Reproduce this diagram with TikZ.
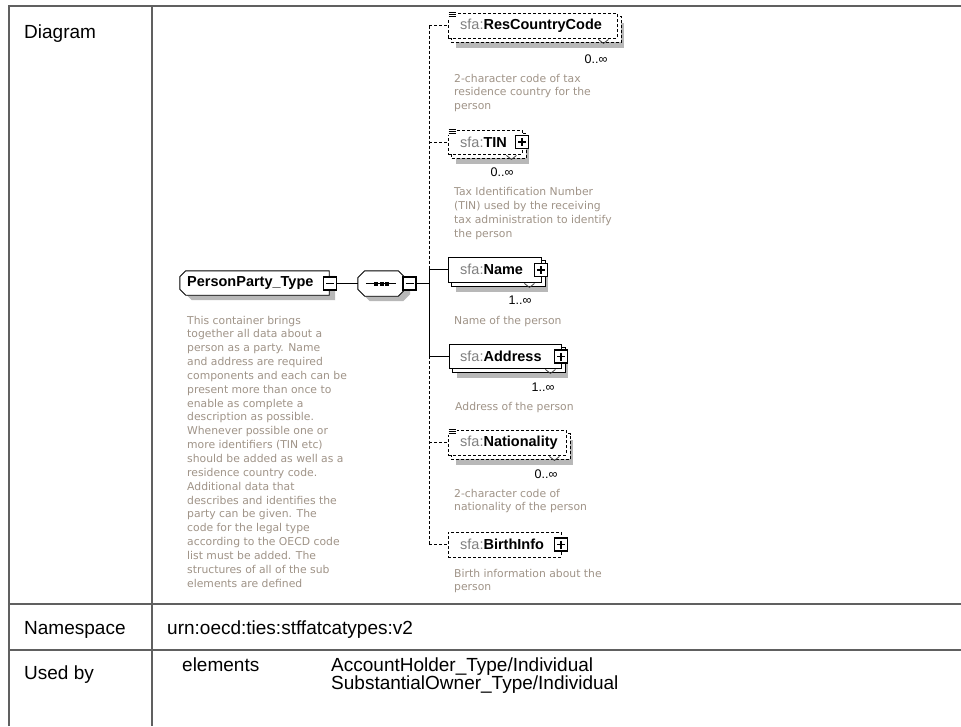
\documentclass[tikz,border=0pt]{standalone}
\usepackage{fontspec}
\setmainfont{Liberation Sans}
\newfontfamily\descfont{DejaVu Sans}
\usetikzlibrary{calc}
\pgfdeclarelayer{back}
\pgfdeclarelayer{bg}
\pgfsetlayers{back,bg,main}
\definecolor{tline}{RGB}{96,96,96}
\definecolor{shadowgrey}{RGB}{184,184,184}
\definecolor{desccol}{RGB}{160,148,136}
\definecolor{sfacol}{RGB}{128,128,128}
\newcommand\desclines[4]{%
  \foreach \t [count=\i from 0] in {#4} {\node[desc] (#1\i) at (#2,#3+13.85*\i) {\t};}}
\newcommand\eqicon[1]{%
  \fill[white] ($(#1.north west)+(0.5,-2)$) rectangle ($(#1.north west)+(9,5.5)$);
  \foreach \k in {0,2,4} {\draw[line width=0.8pt] ($(#1.north west)+(1,\k)$) -- ($(#1.north west)+(8,\k)$);}}
% grey shadow + stacked copy behind an element node
\newcommand\eback[2]{%
  \begin{pgfonlayer}{bg}
    \fill[shadowgrey] ($(#1.north west)+(8,10)$) rectangle ($(#1.south east)+(7,10)$);
    \draw[ebox,#2] ($(#1.north west)+(4,4)$) rectangle ($(#1.south east)+(4,4)$);
  \end{pgfonlayer}}
\newcommand\pptpath[2]{($(ppt.north west)+(6+#1,#2)$) -- ($(ppt.north east)+(#1,#2)$) -- ($(ppt.south east)+(#1,#2)$) -- ($(ppt.south west)+(6+#1,#2)$) -- ($(ppt.south west)+(#1,-6+#2)$) -- ($(ppt.north west)+(#1,6+#2)$) -- cycle}
\newcommand\seqpath[2]{($(seq.north west)+(7+#1,#2)$) -- ($(seq.north east)+(-7+#1,#2)$) -- ($(seq.north east)+(#1,7+#2)$) -- ($(seq.south east)+(#1,-7+#2)$) -- ($(seq.south east)+(-7+#1,#2)$) -- ($(seq.south west)+(7+#1,#2)$) -- ($(seq.south west)+(#1,-7+#2)$) -- ($(seq.north west)+(#1,7+#2)$) -- cycle}
\begin{document}
\begin{tikzpicture}[x=1pt,y=-1pt,
  tbl/.style={draw=tline, line width=2pt},
  ttext/.style={anchor=base west, inner sep=0pt, font=\fontsize{19}{22}\selectfont},
  desc/.style={anchor=base west, inner sep=0pt, text=desccol, font=\descfont\fontsize{10.8}{13}\selectfont},
  ename/.style={anchor=west, inner sep=0pt, font=\fontsize{14.5}{17}\selectfont},
  mult/.style={inner sep=0pt, font=\fontsize{12.5}{14}\selectfont},
  ebox/.style={rectangle, draw=black, line width=0.9pt, fill=white, inner sep=0pt},
  opt/.style={dash pattern=on 3pt off 2pt},
  req/.style={solid},
  pmbox/.style={rectangle, draw=black, line width=1.2pt, fill=white, minimum size=13pt, inner sep=0pt},
  pmsign/.style={line width=1.1pt},
  conn/.style={line width=0.9pt},
  chev/.style={line width=0.8pt, draw=black!75},
]
\begin{pgfonlayer}{back}
\fill[white] (0,0) rectangle (961,726);
\end{pgfonlayer}
\useasboundingbox (0,0) rectangle (961,726);

% ---- table ----
\draw[tbl] (9,726) -- (9,6) -- (961,6);
\draw[tbl] (152,6) -- (152,726);
\draw[tbl] (9,604) -- (961,604);
\draw[tbl] (9,650) -- (961,650);
\node[ttext] (lbl1) at (24,38) {Diagram};
\node[ttext] (lbl2) at (24,634) {Namespace};
\node[ttext] (lbl3) at (24,679) {Used by};
\node[ttext] (ns) at (167,634) {urn:oecd:ties:stffatcatypes:v2};
\node[ttext] (ub1) at (182,671) {elements};
\node[ttext] (ub2) at (331,671) {AccountHolder\_Type/Individual};
\node[ttext] (ub3) at (331,689) {SubstantialOwner\_Type/Individual};

% ---- PersonParty_Type ----
\node[inner sep=0pt, minimum width=149pt, minimum height=24pt] (ppt) at (254.5,283) {};
\begin{pgfonlayer}{bg}
\fill[shadowgrey] \pptpath{6}{5};
\end{pgfonlayer}
\draw[conn, fill=white] \pptpath{0}{0};
\node[ename] (pptt) at (187,283) {\textbf{PersonParty\_Type}};
\node[pmbox] (pptm) at (330,283.5) {};
\draw[pmsign] ($(pptm.center)+(-4,0)$) -- ($(pptm.center)+(4,0)$);
\desclines{pd}{187}{324}{{This container brings},{together all data about a},{person as a party. Name},{and address are required},{components and each can be},{present more than once to},{enable as complete a},{description as possible.},{Whenever possible one or},{more identifiers (TIN etc)},{should be added as well as a},{residence country code.},{Additional data that},{describes and identifies the},{party can be given. The},{code for the legal type},{according to the OECD code},{list must be added. The},{structures of all of the sub},{elements are defined}}

% ---- sequence ----
\node[inner sep=0pt, minimum width=47pt, minimum height=25pt] (seq) at (381.5,283.5) {};
\begin{pgfonlayer}{bg}
\fill[shadowgrey] \seqpath{5}{5};
\end{pgfonlayer}
\draw[conn, fill=white] \seqpath{0}{0};
\draw[conn] ([xshift=8pt]seq.west) -- ([xshift=-9pt]seq.east);
\foreach \dx in {-5.5,0,5.5} {\fill ($(seq.center)+(\dx-2,-2)$) rectangle ($(seq.center)+(\dx+2,2)$);}
\node[pmbox] (seqm) at (409.5,283.5) {};
\draw[pmsign] ($(seqm.center)+(-4,0)$) -- ($(seqm.center)+(4,0)$);
\draw[conn] (pptm.east) -- (seq.west);

% ---- child elements ----
\coordinate (spx) at (429,0);
\node[ebox, opt, minimum width=169pt, minimum height=25pt] (rcc) at (532.5,25.5) {};
\eback{rcc}{opt}
\node[ename] (rcct) at (460,25.5) {{\color{sfacol}sfa:}\textbf{ResCountryCode}};
\eqicon{rcc}
\draw[chev] ($(rcc.south east)+(-19,1)$) -- ($(rcc.south east)+(-14,5)$) -- ($(rcc.south east)+(-9,1)$);
\node[mult] (rccm) at (596,59) {0..∞};
\desclines{rd}{454}{82}{{2-character code of tax},{residence country for the},{person}}

\node[ebox, opt, minimum width=74pt, minimum height=24pt] (tin) at (485,142) {};
\eback{tin}{opt}
\node[ename] (tint) at (460,142) {{\color{sfacol}sfa:}\textbf{TIN}};
\eqicon{tin}
\draw[chev] ($(tin.south east)+(-16,1)$) -- ($(tin.south east)+(-11,5)$) -- ($(tin.south east)+(-6,1)$);
\node[pmbox] (tinp) at (522,142) {};
\draw[pmsign] ($(tinp.center)+(-4,0)$) -- ($(tinp.center)+(4,0)$) ($(tinp.center)+(0,-4)$) -- ($(tinp.center)+(0,4)$);
\node[mult] (tinm) at (502,172) {0..∞};
\desclines{td}{454}{195.5}{{Tax Identification Number},{(TIN) used by the receiving},{tax administration to identify},{the person}}

\node[ebox, minimum width=93pt, minimum height=25pt] (name) at (494.5,269.5) {};
\eback{name}{req}
\node[ename] (namet) at (460,269.5) {{\color{sfacol}sfa:}\textbf{Name}};
\draw[chev] ($(name.south east)+(-17,1)$) -- ($(name.south east)+(-12,5)$) -- ($(name.south east)+(-7,1)$);
\node[pmbox] (namep) at (541,270) {};
\draw[pmsign] ($(namep.center)+(-4,0)$) -- ($(namep.center)+(4,0)$) ($(namep.center)+(0,-4)$) -- ($(namep.center)+(0,4)$);
\node[mult] (namem) at (520,300) {1..∞};
\desclines{nd}{454}{324.5}{{Name of the person}}

\node[ebox, minimum width=112pt, minimum height=24pt] (addr) at (505,356) {};
\eback{addr}{req}
\node[ename] (addrt) at (460,356) {{\color{sfacol}sfa:}\textbf{Address}};
\draw[chev] ($(addr.south east)+(-16,1)$) -- ($(addr.south east)+(-11,5)$) -- ($(addr.south east)+(-6,1)$);
\node[pmbox] (addrp) at (561,356.5) {};
\draw[pmsign] ($(addrp.center)+(-4,0)$) -- ($(addrp.center)+(4,0)$) ($(addrp.center)+(0,-4)$) -- ($(addrp.center)+(0,4)$);
\node[mult] (addrm) at (543,387) {1..∞};
\desclines{ad}{455}{410}{{Address of the person}}

\node[ebox, opt, minimum width=118pt, minimum height=25pt] (nat) at (507,442.5) {};
\eback{nat}{opt}
\node[ename] (natt) at (460,442.5) {{\color{sfacol}sfa:}\textbf{Nationality}};
\eqicon{nat}
\draw[chev] ($(nat.south east)+(-17,1)$) -- ($(nat.south east)+(-12,5)$) -- ($(nat.south east)+(-7,1)$);
\node[mult] (natm) at (546,474) {0..∞};
\desclines{xd}{454}{497}{{2-character code of},{nationality of the person}}

\node[ebox, opt, minimum width=113pt, minimum height=25pt] (birth) at (504.5,544.5) {};
\node[ename] (birtht) at (460,544.5) {{\color{sfacol}sfa:}\textbf{BirthInfo}};
\node[pmbox] (birthp) at (561,544.5) {};
\draw[pmsign] ($(birthp.center)+(-4,0)$) -- ($(birthp.center)+(4,0)$) ($(birthp.center)+(0,-4)$) -- ($(birthp.center)+(0,4)$);
\desclines{bd}{454}{577}{{Birth information about the},{person}}

% ---- spine and branches ----
\draw[conn, opt] (rcc.west -| spx) -- (name.west -| spx);
\draw[conn] (name.west -| spx) -- (addr.west -| spx);
\draw[conn, opt] (addr.west -| spx) -- (birth.west -| spx);
\draw[conn] (seqm.east) -- (seqm.east -| spx);
\draw[conn, opt] (rcc.west -| spx) -- (rcc.west);
\draw[conn, opt] (tin.west -| spx) -- (tin.west);
\draw[conn] (name.west -| spx) -- (name.west);
\draw[conn] (addr.west -| spx) -- (addr.west);
\draw[conn, opt] (nat.west -| spx) -- (nat.west);
\draw[conn, opt] (birth.west -| spx) -- (birth.west);
\end{tikzpicture}
\end{document}
